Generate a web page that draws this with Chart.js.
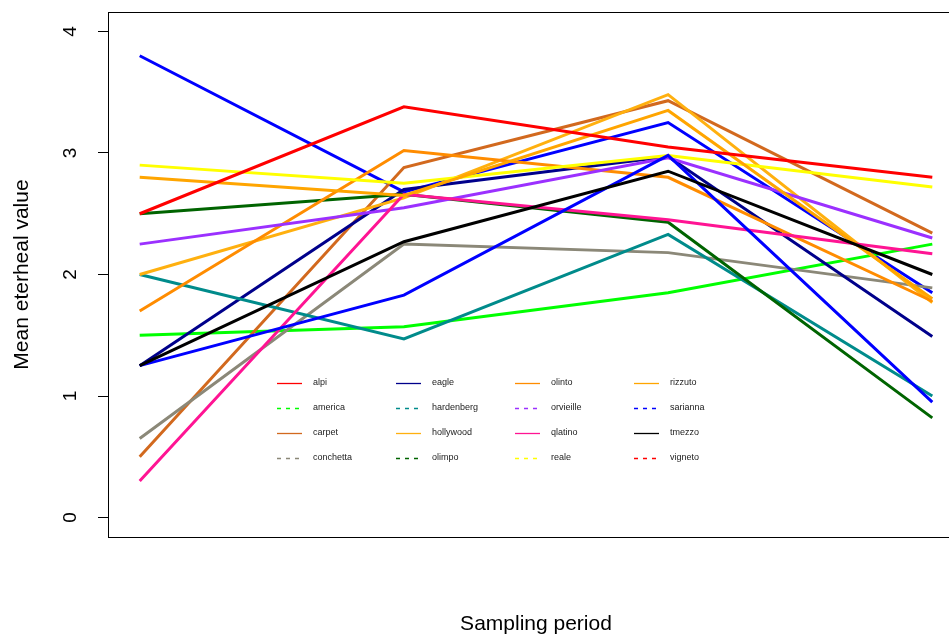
<!DOCTYPE html>
<html>
<head>
<meta charset="utf-8">
<script src="https://cdn.jsdelivr.net/npm/chart.js@4.4.1/dist/chart.umd.min.js"></script>
<style>
    html, body { margin: 0; padding: 0; background: #fff; overflow: hidden; }
    #wrap { width: 964px; height: 637px; }
</style>
</head>
<body>
<div id="wrap"><canvas id="chart"></canvas></div>
<script>
// sampling periods (x) and y axis ticks
const periods = [1, 2, 3, 4];
const yTicks = [0, 1, 2, 3, 4];

// mean values per site
const alpi       = [3.80, 2.68, 3.25, 1.85];
const america    = [1.50, 1.57, 1.85, 2.25];
const carpet     = [0.50, 2.88, 3.43, 2.34];
const conchetta  = [0.65, 2.25, 2.18, 1.89];
const eagle      = [1.25, 2.70, 2.97, 1.49];
const hardenberg = [2.00, 1.47, 2.33, 1.00];
const hollywood  = [2.00, 2.63, 3.48, 1.77];
const olimpo     = [2.50, 2.66, 2.43, 0.82];
const olinto     = [1.70, 3.02, 2.80, 1.78];
const orvieille  = [2.25, 2.55, 2.96, 2.30];
const qlatino    = [0.30, 2.66, 2.45, 2.17];
const reale      = [2.90, 2.75, 2.98, 2.72];
const rizzuto    = [2.80, 2.65, 3.35, 1.80];
const sarianna   = [1.25, 1.83, 2.98, 0.95];
const tmezzo     = [1.25, 2.27, 2.85, 2.00];
const vigneto    = [2.50, 3.38, 3.05, 2.80];

const names = ['alpi', 'america', 'carpet', 'conchetta', 'eagle', 'hardenberg', 'hollywood', 'olimpo',
               'olinto', 'orvieille', 'qlatino', 'reale', 'rizzuto', 'sarianna', 'tmezzo', 'vigneto'];
const series = [alpi, america, carpet, conchetta, eagle, hardenberg, hollywood, olimpo,
                olinto, orvieille, qlatino, reale, rizzuto, sarianna, tmezzo, vigneto];

// colours of the plotted lines
const lineColors = ['#0000FF', '#00FF00', '#D2691E', '#8B8878', '#00008B', '#008B8B', '#FFB00F', '#006400',
                    '#FF8C00', '#9B30FF', '#FF1493', '#FFFF00', '#FFA500', '#0000FF', '#000000', '#FF0000'];
// colours shown in the legend (alpi is red there)
const legendColors = ['#FF0000', '#00FF00', '#D2691E', '#8B8878', '#00008B', '#008B8B', '#FFB00F', '#006400',
                      '#FF8C00', '#9B30FF', '#FF1493', '#FFFF00', '#FFA500', '#0000FF', '#000000', '#FF0000'];
const legendDashed = [false, true, false, true, false, true, false, true,
                      false, true, false, true, false, true, false, true];

const FONT = 'Arial, "Liberation Sans", sans-serif';

const datasets = names.map((name, i) => ({
    label: name,
    data: periods.map((p, j) => ({ x: p, y: series[i][j] })),
    borderColor: lineColors[i],
    backgroundColor: lineColors[i],
    borderWidth: 3,
    pointRadius: 0,
    tension: 0,
    fill: false,
    order: names.length - i   // last one drawn on top, like R
}));

const noPad = s => { s.paddingTop = 0; s.paddingBottom = 0; s.paddingLeft = 0; s.paddingRight = 0; };

// box round the plot and the legend in 4 columns
const boxAndLegend = {
    id: 'boxAndLegend',
    afterDatasetsDraw(chart) {
        const { ctx, chartArea: a } = chart;
        ctx.save();
        ctx.strokeStyle = '#000';
        ctx.lineWidth = 1;
        ctx.strokeRect(a.left + 0.5, a.top + 0.5, a.right - a.left + 20, a.bottom - a.top);

        const x0 = a.left + 169, y0 = a.top + 371;
        ctx.font = '9px ' + FONT;
        ctx.textBaseline = 'middle';
        ctx.textAlign = 'left';
        names.forEach((name, i) => {
            const col = Math.floor(i / 4), row = i % 4;
            const x = x0 + col * 119, y = y0 + row * 25;
            ctx.beginPath();
            ctx.setLineDash(legendDashed[i] ? [4, 5] : []);
            ctx.strokeStyle = legendColors[i];
            ctx.lineWidth = 1.3;
            ctx.moveTo(x, y + 0.5);
            ctx.lineTo(x + 25, y + 0.5);
            ctx.stroke();
            ctx.setLineDash([]);
            ctx.fillStyle = '#222';
            ctx.fillText(name, x + 36, y);
        });
        ctx.restore();
    }
};

new Chart(document.getElementById('chart'), {
    type: 'line',
    data: { datasets },
    options: {
        responsive: true,
        maintainAspectRatio: false,
        animation: false,
        layout: { padding: { top: 12, right: 0, left: 0, bottom: 0 } },
        plugins: {
            legend: { display: false },
            tooltip: { enabled: false }
        },
        scales: {
            x: {
                type: 'linear',
                min: 0.88,
                max: 4.12,
                grid: { display: false },
                border: { display: true, color: '#000' },
                ticks: { display: false },
                title: {
                    display: true,
                    text: 'Sampling period',
                    color: '#000',
                    font: { size: 21, family: FONT },
                    padding: { top: 0, bottom: 0 }
                },
                afterFit: s => { s.height = 100; noPad(s); }
            },
            y: {
                min: -0.16,
                max: 4.16,
                afterBuildTicks: s => { s.ticks = yTicks.map(v => ({ value: v })); },
                ticks: {
                    minRotation: 90,
                    maxRotation: 90,
                    crossAlign: 'center',
                    padding: 22,
                    color: '#000',
                    font: { size: 19, family: FONT }
                },
                grid: { drawOnChartArea: false, tickLength: 10, color: '#000' },
                border: { display: true, color: '#000' },
                title: {
                    display: true,
                    text: 'Mean eterheal value',
                    color: '#000',
                    font: { size: 21, family: FONT },
                    padding: { top: 10, bottom: 0 }
                },
                afterFit: s => { s.width = 108; noPad(s); }
            }
        }
    },
    plugins: [boxAndLegend]
});
</script>
</body>
</html>
